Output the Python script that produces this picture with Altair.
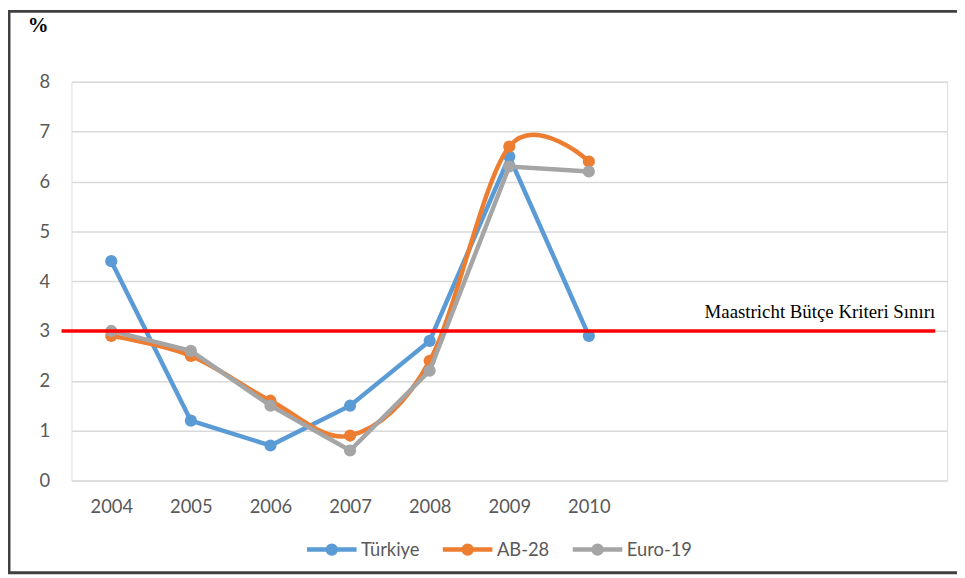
import altair as alt
import pandas as pd

years = [2004, 2005, 2006, 2007, 2008, 2009, 2010]
turkiye = [4.4, 1.2, 0.7, 1.5, 2.8, 6.5, 2.9]
ab28 = [2.9, 2.5, 1.6, 0.9, 2.4, 6.7, 6.4]
euro19 = [3.0, 2.6, 1.5, 0.6, 2.2, 6.3, 6.2]
series_names = ["Türkiye", "AB-28", "Euro-19"]
series_colors = ["#5B9BD5", "#ED7D31", "#A5A5A5"]
series_interp = ["linear", "cardinal", "linear"]
limit_value = 3
limit_label = "Maastricht Bütçe Kriteri Sınırı"
y_ticks = [0, 1, 2, 3, 4, 5, 6, 7, 8]

rows = []
for name, vals in zip(series_names, [turkiye, ab28, euro19]):
    for y, v in zip(years, vals):
        rows.append({"Yıl": y, "Değer": v, "Seri": name})
df = pd.DataFrame(rows)

W, H = 883, 402
FONT = "Lato"
GRAY_TXT = "#595959"

x_enc = alt.X("Yıl:Q", scale=alt.Scale(domain=[2003.5, 2014.5], nice=False, zero=False),
              axis=alt.Axis(values=years, format="d", grid=False, ticks=False, domain=False,
                            labelPadding=17, labelFontSize=18.5, labelColor=GRAY_TXT, labelFont=FONT,
                            title=None))
y_enc = alt.Y("Değer:Q", scale=alt.Scale(domain=[0, 8], nice=False),
              axis=alt.Axis(values=y_ticks, grid=True, gridColor="#D9D9D9", gridWidth=1.5,
                            ticks=False, domain=False, labelPadding=22, labelFontSize=18.5,
                            labelColor=GRAY_TXT, labelFont=FONT, title=None))
color_enc = alt.Color("Seri:N", scale=alt.Scale(domain=series_names, range=series_colors),
                      legend=alt.Legend(title=None, orient="none", direction="horizontal",
                                        legendX=235, legendY=444,
                                        symbolType="M-1,0H1M0.16,0A0.16,0.16,0,1,1,-0.16,0A0.16,0.16,0,1,1,0.16,0",
                                        symbolSize=2500, symbolStrokeWidth=4.5,
                                        labelFontSize=18.5, labelColor=GRAY_TXT, labelFont=FONT,
                                        columnPadding=14, labelOffset=2))

layers = []
for name, interp in zip(series_names, series_interp):
    base = alt.Chart(df).transform_filter(alt.datum["Seri"] == name)
    layers.append(base.mark_line(strokeWidth=4.5, interpolate=interp).encode(x=x_enc, y=y_enc, color=color_enc))
    layers.append(base.mark_point(filled=True, size=150, opacity=1).encode(x=x_enc, y=y_enc, color=color_enc))

limit_df = pd.DataFrame({"y": [limit_value], "label": [limit_label]})
rule = alt.Chart(limit_df).mark_rule(color="#FF0000", strokeWidth=3.5).encode(
    y="y:Q", x=alt.value(-10), x2=alt.value(871))
label = alt.Chart(limit_df).mark_text(align="right", baseline="bottom", dy=-9, fontSize=19,
                                      font="Liberation Serif", color="#000000").encode(
    y="y:Q", x=alt.value(871), text="label:N")

border = alt.Chart(pd.DataFrame({"b": [1]})).mark_rect(fill=None, stroke="#404040", strokeWidth=3).encode(
    x=alt.value(-63), x2=alt.value(W + 40), y=alt.value(-71), y2=alt.value(H + 93))

chart = alt.layer(*layers, rule, label, border).properties(
    width=W, height=H,
    autosize=alt.AutoSizeParams(type="none"),
    padding={"left": 64, "top": 72, "right": 10, "bottom": 96},
    title=alt.TitleParams(text="%", anchor="start", frame="group", dx=-44, offset=-26,
                          font="Liberation Serif", fontSize=21, fontWeight="bold", color="#000000"),
).configure_view(stroke="#D9D9D9", strokeWidth=1.5).configure(background="white")

chart.save("out.html", embed_options={"renderer": "svg", "actions": False})
